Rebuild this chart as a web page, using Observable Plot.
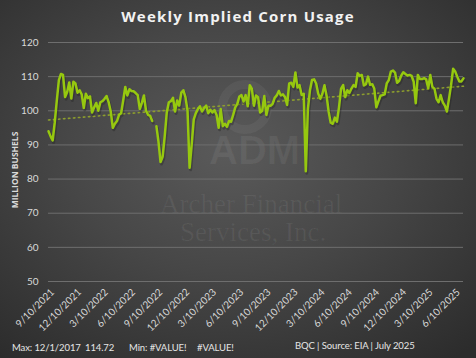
<!DOCTYPE html>
<html>
<head>
<meta charset="utf-8">
<script src="https://cdn.jsdelivr.net/npm/d3@7"></script>
<script src="https://cdn.jsdelivr.net/npm/@observablehq/plot@0.6"></script>
<style>
  html, body { margin: 0; padding: 0; }
  #wrap {
    position: relative; width: 476px; height: 358px; overflow: hidden;
    background: radial-gradient(ellipse 75% 75% at 48% 42%, #5a5a5a 0%, #474747 45%, #2c2c2c 100%);
    font-family: Lato, "Open Sans", sans-serif;
  }
  .wm { position: absolute; color: rgba(255,255,255,0.06); white-space: nowrap; }
  #title {
    position: absolute; top: 6px; left: 0; width: 476px; text-align: center;
    color: #f2f2f2; font-weight: 700; font-size: 15px; letter-spacing: 1.2px;
    font-family: "Open Sans", sans-serif;
  }
  #ylab {
    position: absolute; left: 14px; top: 170px; transform: translate(-50%, -50%) rotate(-90deg);
    color: #d9d9d9; font-weight: 700; font-size: 8.5px; white-space: nowrap;
    font-family: "Open Sans", sans-serif;
  }
  #chart { position: absolute; left: 0; top: 30px; }
  .foot { position: absolute; color: #e6e6e6; font-size: 9.5px; letter-spacing: -0.1px; white-space: nowrap; line-height: 12px; }
</style>
</head>
<body>
<div id="wrap">
  <div class="wm" style="left:218px;top:80px;width:54px;height:54px;border:9px solid rgba(255,255,255,0.05);border-radius:50%;box-sizing:border-box;"></div>
  <div class="wm" style="left:209px;top:128px;font-family:'Liberation Sans',sans-serif;font-weight:700;font-size:40px;line-height:44px;">ADM</div>
  <div class="wm" style="left:160px;top:191px;font-family:'Liberation Serif',serif;font-size:27px;line-height:27px;">Archer Financial</div>
  <div class="wm" style="left:180px;top:219px;font-family:'Liberation Serif',serif;font-size:27px;line-height:27px;">Services, Inc.</div>
  <div id="title">Weekly Implied Corn Usage</div>
  <div id="ylab">MILLION BUSHELS</div>
  <div id="chart"></div>
  <div class="foot" style="left:12px;top:342px;">Max: 12/1/2017</div>
  <div class="foot" style="left:85px;top:342px;">114.72</div>
  <div class="foot" style="left:129px;top:342px;">Min: #VALUE!</div>
  <div class="foot" style="left:197px;top:342px;">#VALUE!</div>
  <div class="foot" style="left:295px;top:340px;">BQC | Source: EIA | July 2025</div>
</div>
<script>
// Weekly series, first week ending 2021-08-27
const firstWeek = "2021-08-27";
const values = [
  94, 92.5, 91.3, 96.5, 103, 109, 110.8, 110.5, 104, 105.5,
  108.3, 103.6, 108.5, 108, 105.3, 106, 104.8, 100.8, 105, 103.7,
  104.2, 99.5, 101, 102.3, 100, 102.5, 102.8, 103.5, 104.3, 102.5,
  99.8, 95, 96.2, 97, 98.8, 99.3, 103, 107, 104.5, 106.3,
  105.8, 105.7, 105.2, 104.6, 100.5, 102.3, 104.5, 100, 98.8, 98.5,
  97, null, 95.5, 91, 85, 86.5, 92.5, 99.5, 102.5, 102.8,
  103.8, 99.8, 103, 101.5, 105.3, 106, 104, 100, 83.3, 90,
  97.5, 99.3, 100.5, 101.3, 99.8, 100.8, 101.5, 99.3, 100.3, 99.5,
  100.2, 98.8, 95, 100.5, 95.5, 96.2, 95.3, 97, 96.8, 98.8,
  101, 102, 104.2, 104.6, 102.7, 104.6, 101.3, 107.5, 106.5, 101.5,
  104.5, 104, 99.5, 100, 104.3, 98.8, 101.5, 101.5, 102, 103.8,
  104.5, 105.8, 104.5, 104.8, 104, 101.7, 108, 108.2, 107, 111.2,
  106.8, 107.5, 104.6, 105, 82.3, 100.5, 106, 109, 109.2, 108,
  105, 103.5, 105, 107.5, 104.5, 99.8, 96.5, 96.2, 98, 96.8,
  101, 106.5, 107.5, 104, 106, 105.2, 106.5, 107.5, 107, 111,
  110.2, 110.5, 107.4, 107.8, 110, 107.6, 107.8, 106.5, 101, 102.8,
  104.4, 104.6, 104.8, 108, 109, 111.5, 111.8, 111.2, 108.2, 108.8,
  110.3, 111.3, 110.8, 110.3, 110.5, 110.2, 108.5, 102.2, 110.5, 109.3,
  109.3, 109.6, 109.2, 106.6, 110.5, 107, 106.5, 103.5, 102.5, 104.6,
  102.5, 101.5, 99.8, 103.5, 107.5, 112.3, 111.5, 110, 108.6, 108.6,
  109.5
];
// Linear trendline, value at first and last week
const trendEnds = [97.3, 107.2];
const xTickLabels = ["9/10/2021","12/10/2021","3/10/2022","6/10/2022","9/10/2022","12/10/2022",
  "3/10/2023","6/10/2023","9/10/2023","12/10/2023","3/10/2024","6/10/2024",
  "9/10/2024","12/10/2024","3/10/2025","6/10/2025"];
const yTicks = [50, 60, 70, 80, 90, 100, 110, 120];

const t0 = new Date(firstWeek + "T00:00:00Z").getTime();
const data = values.map((v, i) => ({date: new Date(t0 + i * 7 * 864e5), value: v}));
const trend = [
  {date: data[0].date, value: trendEnds[0]},
  {date: data[data.length - 1].date, value: trendEnds[1]}
];
const parseMDY = s => { const [m, d, y] = s.split("/").map(Number); return new Date(Date.UTC(y, m - 1, d)); };
const xTicks = xTickLabels.map(parseMDY);
const fmt = d => `${d.getUTCMonth() + 1}/${d.getUTCDate()}/${d.getUTCFullYear()}`;

const chart = Plot.plot({
  width: 476,
  height: 305,
  marginLeft: 48,
  marginRight: 13,
  marginTop: 12,
  marginBottom: 54,
  style: {background: "transparent", color: "#d9d9d9", fontFamily: "Lato, 'Open Sans', sans-serif"},
  x: {type: "utc", domain: [data[0].date, data[data.length - 1].date]},
  y: {domain: [50, 120]},
  marks: [
    Plot.gridY(yTicks, {stroke: "#6e6e6e", strokeOpacity: 1, strokeWidth: 1}),
    Plot.axisY(yTicks, {tickSize: 0, tickPadding: 10, label: null, fill: "#d9d9d9", fontSize: 10}),
    Plot.axisX(xTicks, {tickSize: 0, tickPadding: 9, tickRotate: -45, tickFormat: fmt, label: null, fill: "#d9d9d9", fontSize: 10}),
    Plot.lineY(trend, {x: "date", y: "value", stroke: "#8c9d2e", strokeWidth: 1.6, strokeDasharray: "1.5,3.5"}),
    Plot.lineY(data, {x: "date", y: "value", stroke: "#202020", strokeOpacity: 0.35, strokeWidth: 3, dx: 1, dy: 2}),
    Plot.lineY(data, {x: "date", y: "value", stroke: "#96c80f", strokeWidth: 2.5, strokeLinejoin: "round"})
  ]
});
document.getElementById("chart").appendChild(chart);
</script>
</body>
</html>
